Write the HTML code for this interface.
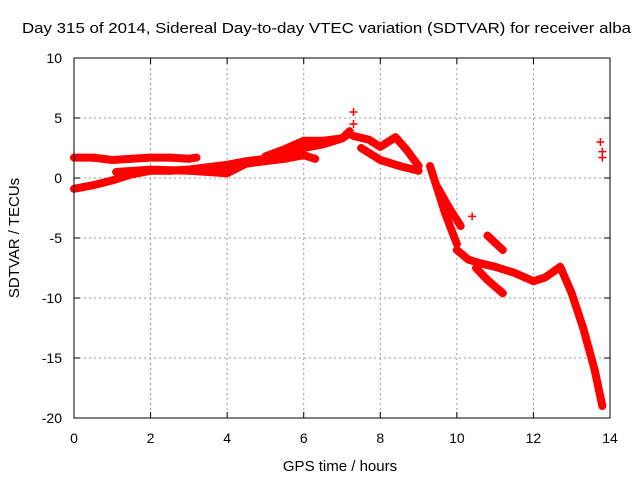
<!DOCTYPE html>
<html><head><meta charset="utf-8"><style>
body{margin:0;background:#fff}
svg{display:block;font-family:"Liberation Sans",sans-serif}
</style></head><body>
<svg id="c" width="640" height="480">
<text x="22" y="33" font-size="15" textLength="609" lengthAdjust="spacingAndGlyphs">Day 315 of 2014, Sidereal Day-to-day VTEC variation (SDTVAR) for receiver alba</text>
<text x="340" y="471" font-size="15" text-anchor="middle">GPS time / hours</text>
<text transform="translate(19,238) rotate(-90)" font-size="15" text-anchor="middle">SDTVAR / TECUs</text>
<g id="grid"></g><g id="marks"></g>
<rect x="74" y="58" width="536" height="360" fill="none" stroke="#000"/>
</svg>
<script>
const xTicks=[0,2,4,6,8,10,12,14];
const yTicks=[10,5,0,-5,-10,-15,-20];
const trackA_t=[0,0.5,1,1.5,2,2.5,3,3.2];
const trackA_v=[1.7,1.7,1.5,1.6,1.7,1.7,1.6,1.7];
const trackB_t=[0,0.5,1,1.5,2,2.5,3,3.5,4,4.5,5,5.5,6,6.5,7,7.2];
const trackB_v=[-0.9,-0.6,-0.2,0.3,0.6,0.6,0.7,0.9,1.1,1.4,1.6,2.0,2.5,2.8,3.3,3.7];
const trackC_t=[1.1,2,3,3.5,4,4.5,5,5.5,6,6.3];
const trackC_v=[0.5,0.7,0.6,0.5,0.4,1.2,1.4,1.6,1.9,1.6];
const trackD_t=[5,5.5,6,6.5,7,7.2];
const trackD_v=[1.8,2.4,3.1,3.1,3.3,3.9];
const trackE_t=[7.3,7.7,8,8.4,8.7,9];
const trackE_v=[3.5,3.2,2.6,3.4,2.3,1.0];
const trackF_t=[7.5,8,8.5,9];
const trackF_v=[2.5,1.5,1.0,0.6];
const trackG_t=[9.3,9.5,9.7,10];
const trackG_v=[1.0,-1.0,-3.0,-5.5];
const trackH_t=[9.5,9.8,10.1];
const trackH_v=[-0.8,-2.5,-4.0];
const trackI_t=[10,10.3,10.6,11,11.5,12,12.3,12.7,13,13.3,13.6,13.8];
const trackI_v=[-6,-6.8,-7.1,-7.4,-7.9,-8.6,-8.3,-7.4,-9.6,-12.5,-16,-19];
const trackJ_t=[10.5,10.8,11.2];
const trackJ_v=[-7.5,-8.5,-9.6];
const trackK_t=[10.8,11.2];
const trackK_v=[-4.8,-6.0];
const outlier_t=[7.3,7.3,10.4,13.75,13.8,13.8];
const outlier_v=[5.5,4.5,-3.2,3.0,2.2,1.7];
const tracks=[[trackA_t,trackA_v],[trackB_t,trackB_v],[trackC_t,trackC_v],[trackD_t,trackD_v],[trackE_t,trackE_v],[trackF_t,trackF_v],[trackG_t,trackG_v],[trackH_t,trackH_v],[trackI_t,trackI_v],[trackJ_t,trackJ_v],[trackK_t,trackK_v]];
const X=t=>74+t*(536/14), Y=v=>178-v*12;
const NS="http://www.w3.org/2000/svg";
const grid=document.getElementById('grid'), marks=document.getElementById('marks');
function mk(tag,attrs,parent){const e=document.createElementNS(NS,tag);for(const k in attrs)e.setAttribute(k,attrs[k]);parent.appendChild(e);return e;}
xTicks.forEach(t=>{
 if(t>0&&t<14){const l=mk('line',{x1:X(t),x2:X(t),y1:58,y2:418,stroke:'#999','stroke-dasharray':'2,3'},grid);
 
 }
 mk('line',{x1:X(t),x2:X(t),y1:418,y2:412,stroke:'#000'},grid);
 mk('line',{x1:X(t),x2:X(t),y1:58,y2:64,stroke:'#000'},grid);
 const tx=mk('text',{x:X(t),y:443,'font-size':14,'text-anchor':'middle'},grid);tx.textContent=t;
 
 
});
yTicks.forEach(v=>{
 if(v<10&&v>-20){const l=mk('line',{x1:74,x2:610,y1:Y(v),y2:Y(v),stroke:'#999','stroke-dasharray':'2,3'},grid);
 
 }
 mk('line',{x1:74,x2:80,y1:Y(v),y2:Y(v),stroke:'#000'},grid);
 mk('line',{x1:604,x2:610,y1:Y(v),y2:Y(v),stroke:'#000'},grid);
 const tx=mk('text',{x:62,y:Y(v)+5,'font-size':14,'text-anchor':'end'},grid);tx.textContent=v;
 
 
});
function plus(x,y){mk('path',{d:`M${x-4} ${y}h8M${x} ${y-4}v8`,stroke:'#f00','stroke-width':1.5},marks);}
tracks.forEach(([ts,vs])=>{
 const p=mk('polyline',{points:ts.map((t,i)=>X(t)+','+Y(vs[i])).join(' '),fill:'none',stroke:'#f00','stroke-width':8,'stroke-linejoin':'round','stroke-linecap':'round'},marks);
 
 
 ts.forEach((t,i)=>plus(X(t),Y(vs[i])));
});
outlier_t.forEach((t,i)=>plus(X(t),Y(outlier_v[i])));
</script>
</body></html>
